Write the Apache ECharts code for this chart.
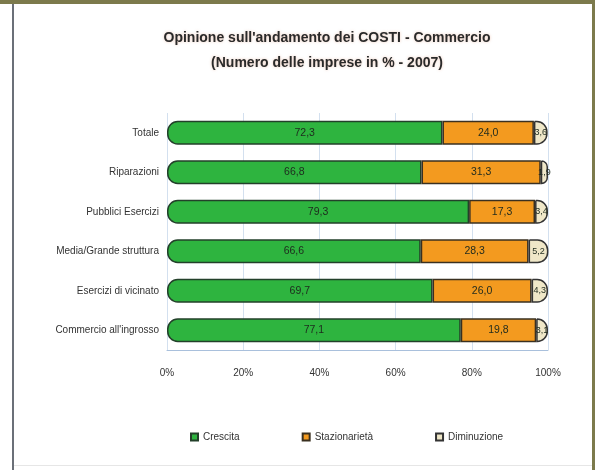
<!DOCTYPE html>
<html><head><meta charset="utf-8">
<script src="https://cdn.jsdelivr.net/npm/echarts@6/dist/echarts.min.js"></script>
<style>html,body{margin:0;padding:0;background:#fff}#c{width:595px;height:470px}</style>
</head><body><div id="c"></div>
<script>
var categories = ['Totale','Riparazioni','Pubblici Esercizi','Media/Grande struttura','Esercizi di vicinato',"Commercio all'ingrosso"];
var crescita = [72.3, 66.8, 79.3, 66.6, 69.7, 77.1];
var stazionarieta = [24.0, 31.3, 17.3, 28.3, 26.0, 19.8];
var diminuzione = [3.6, 1.9, 3.4, 5.2, 4.3, 3.1];
var seriesNames = ['Crescita','Stazionarietà','Diminuzione'];
var xTicks = ['0%','20%','40%','60%','80%','100%'];

var FF = 'Liberation Sans, Arial, sans-serif';
var chart = echarts.init(document.getElementById('c'), null, {renderer:'canvas'});
function fmt(p){ return p.value.toFixed(1).replace('.', ','); }
var lbl = {show:true, position:'inside', formatter:fmt, color:'#1e2a1e', fontSize:10.5, fontFamily:FF};
chart.setOption({
  animation:false,
  backgroundColor:'#fff',
  title:{
    text:"Opinione sull'andamento dei COSTI - Commercio\n(Numero delle imprese in % - 2007)",
    left:327, top:26, textAlign:'center', padding:0,
    textStyle:{fontSize:14, fontWeight:'bold', color:'#2a2a2a', fontFamily:FF, lineHeight:25,
      textShadowColor:'rgba(210,120,80,0.4)', textShadowBlur:3}
  },
  legend:{
    data:seriesNames, left:190, top:432, padding:0, itemWidth:7, itemHeight:7, itemGap:62, icon:'rect',
    textStyle:{fontSize:10, color:'#333', fontFamily:FF}
  },
  grid:{left:167, right:47, top:113, bottom:120, containLabel:false},
  xAxis:{
    type:'value', min:0, max:100, interval:20,
    axisLabel:{formatter:function(v){return xTicks[Math.round(v/20)];}, margin:18, fontSize:10, color:'#333', fontFamily:FF},
    splitLine:{show:true, lineStyle:{color:'#d3e0ef', width:1}},
    axisLine:{show:true, lineStyle:{color:'#a9c0dc'}},
    axisTick:{show:false}
  },
  yAxis:{
    type:'category', data:categories, inverse:true,
    axisLine:{show:false}, axisTick:{show:false},
    axisLabel:{fontSize:10, color:'#333', margin:8, fontFamily:FF}
  },
  series:[
    {name:seriesNames[0], type:'bar', stack:'t', data:crescita, barWidth:24,
     itemStyle:{color:'#2eb43f', borderColor:'#23402a', borderWidth:1.5, borderRadius:[10,0,0,10]}, label:lbl},
    {name:seriesNames[1], type:'bar', stack:'t', data:stazionarieta, barWidth:24,
     itemStyle:{color:'#f39a1f', borderColor:'#3a3020', borderWidth:1.5}, label:lbl},
    {name:seriesNames[2], type:'bar', stack:'t', data:diminuzione, barWidth:24,
     itemStyle:{color:'#efe7c8', borderColor:'#333', borderWidth:1.5, borderRadius:[0,10,10,0]},
     label:Object.assign({}, lbl, {fontSize:9})}
  ],
  graphic:[
    {type:'rect', left:0, top:0, shape:{width:595, height:4}, style:{fill:'#7c7a4c'}, z:100},
    {type:'rect', left:12, top:4, shape:{width:2, height:466}, style:{fill:'#6b7078'}, z:100},
    {type:'rect', left:592, top:4, shape:{width:3, height:466}, style:{fill:'#7c7a4c'}, z:100},
    {type:'rect', left:14, top:465, shape:{width:578, height:1}, style:{fill:'#e6e6e6'}, z:100}
  ]
});
</script></body></html>
